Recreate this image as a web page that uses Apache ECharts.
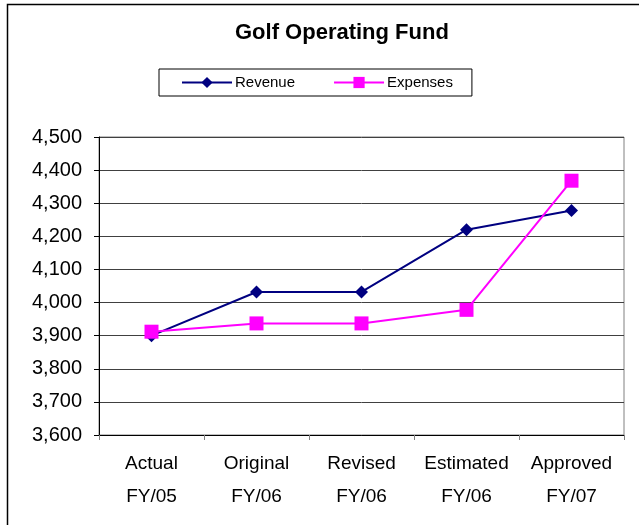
<!DOCTYPE html>
<html><head><meta charset="utf-8">
<script src="https://cdn.jsdelivr.net/npm/echarts@6/dist/echarts.min.js"></script>
<style>html,body{margin:0;padding:0;background:#fff}#c{width:639px;height:525px}</style>
</head><body><div id="c"></div>
<script>
const categories = ['Actual\nFY/05', 'Original\nFY/06', 'Revised\nFY/06', 'Estimated\nFY/06', 'Approved\nFY/07'];
const revenue = [3900, 4032, 4032, 4220, 4278];
const expenses = [3912, 3937, 3937, 3978, 4368];
const yMin = 3600, yMax = 4500, yStep = 100;
const FONT = 'Liberation Sans, Arial, sans-serif';

const chart = echarts.init(document.getElementById('c'), null, {renderer: 'canvas'});
chart.setOption({
  animation: false,
  backgroundColor: '#fff',
  title: {
    text: 'Golf Operating Fund', left: 230, top: 17,
    textStyle: {fontFamily: FONT, fontSize: 22, fontWeight: 'bold', color: '#000'}
  },
  legend: {
    left: 159, top: 69,
    borderColor: '#000', borderWidth: 1, borderRadius: 0,
    padding: [6, 19, 6, 22], itemGap: 38,
    itemWidth: 50, itemHeight: 14,
    textStyle: {fontFamily: FONT, fontSize: 15, color: '#000', padding: [0, 0, 0, -2]},
    data: ['Revenue', 'Expenses']
  },
  grid: {left: 99, right: 15, top: 137, bottom: 90, show: true, borderColor: '#808080', borderWidth: 1},
  xAxis: {
    type: 'category', data: categories, boundaryGap: true,
    axisLine: {lineStyle: {color: '#000', width: 1}},
    axisTick: {show: true, length: 5, lineStyle: {color: '#808080'}},
    axisLabel: {fontFamily: FONT, fontSize: 19, color: '#000', lineHeight: 33, margin: 12, interval: 0}
  },
  yAxis: {
    type: 'value', min: yMin, max: yMax, interval: yStep,
    axisLine: {show: true, lineStyle: {color: '#000', width: 1}},
    axisTick: {show: true, length: 5, lineStyle: {color: '#000'}},
    splitLine: {show: true, lineStyle: {color: '#404040', width: 1}},
    axisLabel: {fontFamily: FONT, fontSize: 20, color: '#000', margin: 17,
      formatter: v => v.toLocaleString('en-US')}
  },
  series: [
    {name: 'Revenue', type: 'line', data: revenue, symbol: 'diamond', symbolSize: 13,
     itemStyle: {color: '#000080'}, lineStyle: {color: '#000080', width: 2}},
    {name: 'Expenses', type: 'line', data: expenses, symbol: 'rect', symbolSize: 14,
     itemStyle: {color: '#FF00FF'}, lineStyle: {color: '#FF00FF', width: 2}}
  ],
  graphic: [
    {type: 'rect', shape: {x: 7.5, y: 4.5, width: 700, height: 600}, style: {fill: null, stroke: '#000', lineWidth: 1.5}, silent: true}
  ]
});
</script></body></html>
